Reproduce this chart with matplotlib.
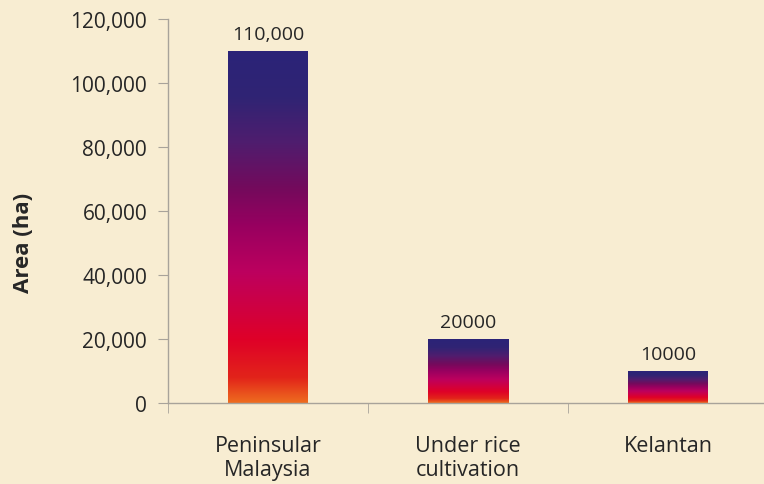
import numpy as np
import matplotlib
matplotlib.use("Agg")
import matplotlib.pyplot as plt
from matplotlib.colors import LinearSegmentedColormap
from matplotlib.patches import Rectangle

categories = ["Peninsular\nMalaysia", "Under rice\ncultivation", "Kelantan"]
values = [110000, 20000, 10000]
value_labels = ["110,000", "20000", "10000"]
y_ticks = [0, 20000, 40000, 60000, 80000, 100000, 120000]

plt.rcParams["font.family"] = ["Open Sans", "DejaVu Sans"]

bg = "#f8edd2"
axis_col = "#a8a39a"
text_col = "#262626"

grad = LinearSegmentedColormap.from_list("bar_grad", [
    (0.00, "#ee6c1f"),
    (0.07, "#e2241a"),
    (0.18, "#df0028"),
    (0.37, "#bd005e"),
    (0.50, "#990060"),
    (0.61, "#740a5c"),
    (0.74, "#4f1d6e"),
    (0.87, "#302474"),
    (1.00, "#2b2378"),
])

fig = plt.figure(figsize=(7.64, 4.85), dpi=100, facecolor=bg)
ax = fig.add_axes([168 / 764, (485 - 404) / 485, 600 / 764, 384 / 485])
ax.set_facecolor("none")

x = np.arange(len(categories))
bar_w = 0.4
bars = ax.bar(x, values, width=bar_w, color="none", edgecolor="none", zorder=2)

ramp = np.linspace(0, 1, 256).reshape(-1, 1)
for b in bars:
    x0, w, h = b.get_x(), b.get_width(), b.get_height()
    im = ax.imshow(ramp, cmap=grad, origin="lower", aspect="auto",
                   extent=(x0, x0 + w, 0, h), zorder=2, interpolation="bilinear")
    clip = Rectangle((x0, 0), w, h, transform=ax.transData)
    im.set_clip_path(clip)

for xi, v, lab in zip(x, values, value_labels):
    ax.annotate(lab, (xi, v), xytext=(0, 6), textcoords="offset points",
                ha="center", va="bottom", fontsize=14, color=text_col)

ax.set_xlim(-0.5, len(categories) - 0.5)
ax.set_ylim(0, 120000)
ax.set_yticks(y_ticks)
ax.set_yticklabels([f"{t:,}" for t in y_ticks], fontsize=15, color=text_col)

ax.set_xticks(x)
ax.set_xticklabels(categories, fontsize=15.5, color=text_col, linespacing=1.2)
ax.tick_params(axis="x", length=0, pad=23)
ax.set_xticks(np.arange(len(categories) + 1) - 0.5, minor=True)
ax.tick_params(axis="x", which="minor", length=7, color=axis_col, direction="out")
ax.tick_params(axis="y", length=7, color=axis_col, direction="out", pad=8)

for s in ["top", "right"]:
    ax.spines[s].set_visible(False)
for s in ["left", "bottom"]:
    ax.spines[s].set_color(axis_col)
    ax.spines[s].set_linewidth(1.0)

ax.set_ylabel("Area (ha)", fontsize=16, fontweight="bold", color=text_col)
ax.yaxis.set_label_coords(34 / 764, (485 - 243) / 485, transform=fig.transFigure)

fig.savefig("out.png", dpi=100, facecolor=bg)
